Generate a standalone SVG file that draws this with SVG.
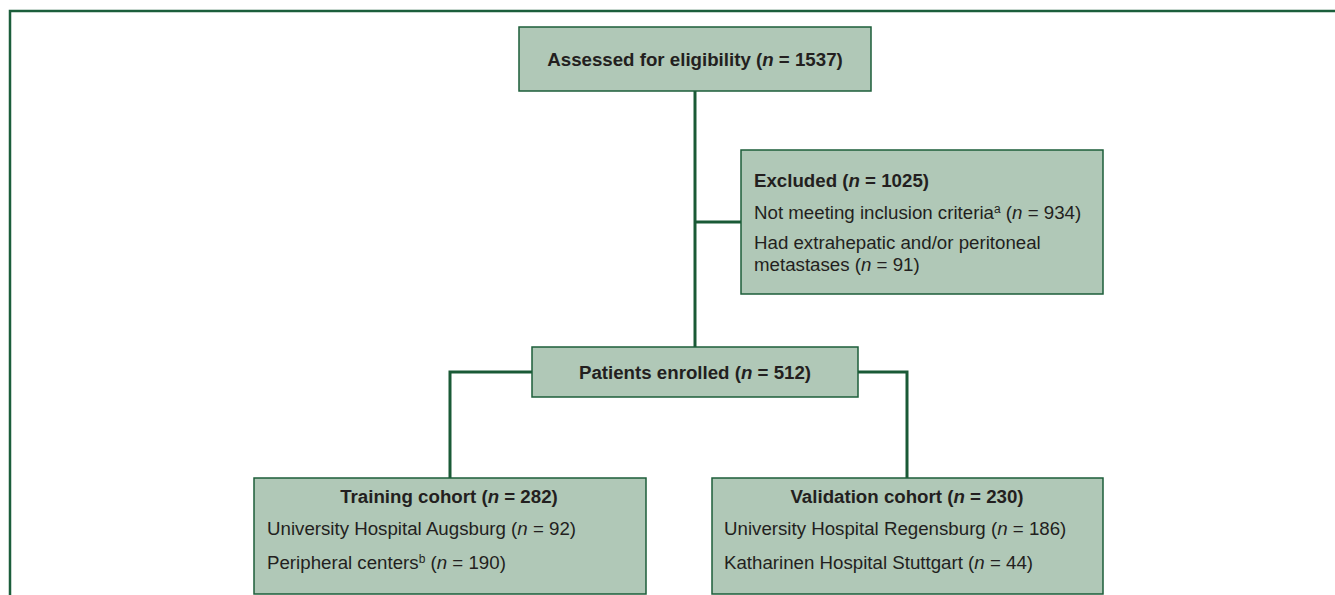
<svg xmlns="http://www.w3.org/2000/svg" width="1335" height="595" viewBox="0 0 1335 595">
<style>
.box{fill:#b0c8b7;stroke:#1d5e3a;stroke-width:1.5}
.con{fill:none;stroke:#1a5a36;stroke-width:3}
.frame{fill:none;stroke:#1b5e3b;stroke-width:2.5}
text{font-family:"Liberation Sans",Arial,sans-serif;font-size:18.7px;fill:#231f20}
.b{font-weight:bold}
.c{text-anchor:middle}
.sup{font-size:12px}
</style>
<rect width="1335" height="595" fill="#ffffff"/>
<path class="frame" d="M10,595 V11 H1335"/>
<g id="connectors">
<path class="con" d="M695,91 V347"/>
<path class="con" d="M695,222 H741"/>
<path class="con" d="M532,372 H450 V478"/>
<path class="con" d="M858,372 H907 V478"/>
</g>
<g id="assessed">
<rect class="box" x="519" y="27" width="352" height="64"/>
<text class="b c" x="695" y="66">Assessed for eligibility (<tspan font-style="italic">n</tspan> = 1537)</text>
</g>
<g id="excluded">
<rect class="box" x="741" y="150" width="362" height="144"/>
<text class="b" x="754" y="187">Excluded (<tspan font-style="italic">n</tspan> = 1025)</text>
<text x="754" y="219">Not meeting inclusion criteria<tspan class="sup" dy="-6">a</tspan><tspan dy="6"> (</tspan><tspan font-style="italic">n</tspan> = 934)</text>
<text x="754" y="249">Had extrahepatic and/or peritoneal</text>
<text x="754" y="271">metastases (<tspan font-style="italic">n</tspan> = 91)</text>
</g>
<g id="enrolled">
<rect class="box" x="532" y="347" width="326" height="50"/>
<text class="b c" x="695" y="379">Patients enrolled (<tspan font-style="italic">n</tspan> = 512)</text>
</g>
<g id="training">
<rect class="box" x="254" y="478" width="392" height="116"/>
<text class="b c" x="449" y="503">Training cohort (<tspan font-style="italic">n</tspan> = 282)</text>
<text x="267" y="535">University Hospital Augsburg (<tspan font-style="italic">n</tspan> = 92)</text>
<text x="267" y="569">Peripheral centers<tspan class="sup" dy="-6">b</tspan><tspan dy="6"> (</tspan><tspan font-style="italic">n</tspan> = 190)</text>
</g>
<g id="validation">
<rect class="box" x="712" y="478" width="391" height="116"/>
<text class="b c" x="907" y="503">Validation cohort (<tspan font-style="italic">n</tspan> = 230)</text>
<text x="724" y="535">University Hospital Regensburg (<tspan font-style="italic">n</tspan> = 186)</text>
<text x="724" y="569">Katharinen Hospital Stuttgart (<tspan font-style="italic">n</tspan> = 44)</text>
</g>
</svg>
